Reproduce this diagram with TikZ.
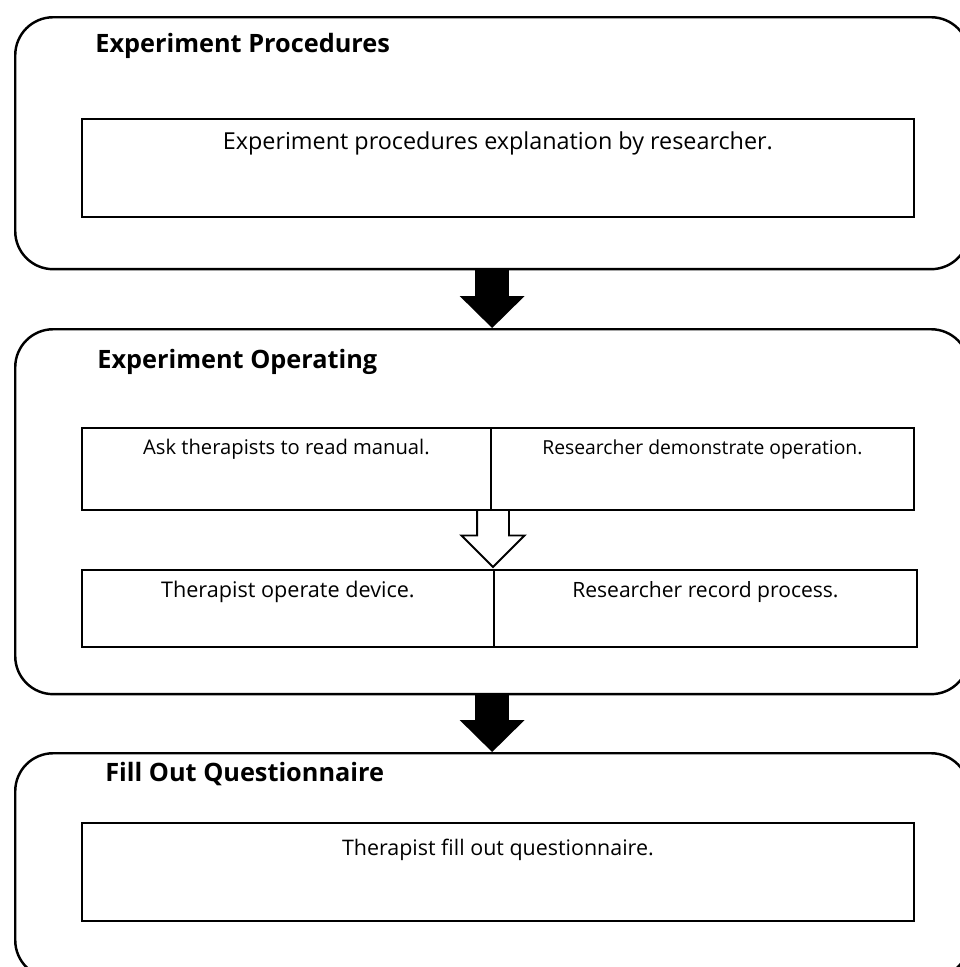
\documentclass[tikz,border=0pt]{standalone}
\usepackage{fontspec}
\setmainfont{Open Sans}
\usetikzlibrary{positioning,arrows.meta,shapes.arrows,calc}

\tikzset{
  stagebox/.style={draw, line width=1.4pt, rounded corners=0.76cm, anchor=north west, inner sep=0pt, minimum width=19.08cm},
  stagetitle/.style={anchor=base west, inner sep=0pt, font=\bfseries\fontsize{14.4}{16}\selectfont},
  taskbox/.style={draw, line width=1.1pt, anchor=north west, inner sep=0pt, font=\fontsize{12}{14}\selectfont},
  flowarrow/.style={line width=0.68cm, -{Triangle[length=0.64cm, width=1.3cm, line width=0pt]}},
  hollowarrow/.style={single arrow, draw, fill=white, line width=1.1pt, shape border rotate=270,
    inner sep=0.3cm, minimum height=1.14cm, single arrow head extend=0.31cm, single arrow tip angle=90}
}

\begin{document}
\begin{tikzpicture}[x=0.02cm, y=-0.02cm]
  \useasboundingbox (0,0) rectangle (960,967);
  \clip (0,0) rectangle (960,967);

  % stage 1
  \node[stagebox, minimum height=5.04cm] (procStage) at (14,16) {};
  \node[stagetitle] (procTitle) at (95,52) {Experiment Procedures};
  \node[taskbox, minimum width=16.64cm, text height=0.62cm, text depth=1.34cm,
    font=\fontsize{13.3}{15}\selectfont] (explainTask) at (81,118)
    {Experiment procedures explanation by researcher.};

  % stage 2
  \node[stagebox, minimum height=7.30cm] (operStage) at (14,328) {};
  \node[stagetitle] (operTitle) at (97,368) {Experiment Operating};
  \node[taskbox, minimum width=8.18cm, text height=0.54cm, text depth=1.10cm,
    font=\fontsize{11.5}{13}\selectfont] (readTask) at (81,427)
    {Ask therapists to read manual.};
  \node[taskbox, minimum width=8.46cm, text height=0.54cm, text depth=1.10cm,
    font=\fontsize{11}{13}\selectfont] (demoTask) at (490,427)
    {Researcher demonstrate operation.};
  \node[taskbox, minimum width=8.24cm, text height=0.56cm, text depth=0.98cm,
    font=\fontsize{12.3}{14}\selectfont] (deviceTask) at (81,569)
    {Therapist operate device.};
  \node[taskbox, minimum width=8.46cm, text height=0.56cm, text depth=0.98cm] (recordTask) at (493,569)
    {Researcher record process.};
  \node[hollowarrow, anchor=tail] (midArrow) at (493,509) {};

  % stage 3
  \node[stagebox, minimum height=4.5cm] (formStage) at (14,752) {};
  \node[stagetitle] (formTitle) at (105,781) {Fill Out Questionnaire};
  \node[taskbox, minimum width=16.64cm, text height=0.66cm, text depth=1.30cm,
    font=\fontsize{12.2}{14}\selectfont] (formTask) at (81,822)
    {Therapist fill out questionnaire.};

  % arrows between stages
  \draw[flowarrow] (procStage.south) -- (operStage.north);
  \draw[flowarrow] (operStage.south) -- (formStage.north);
\end{tikzpicture}
\end{document}
